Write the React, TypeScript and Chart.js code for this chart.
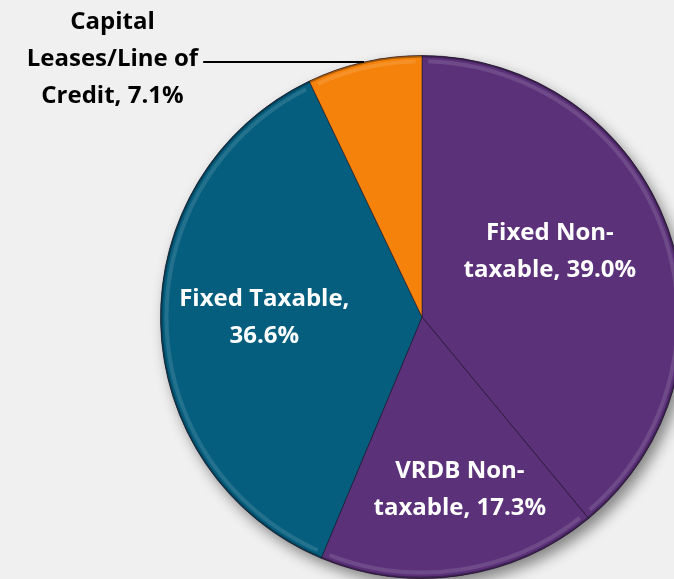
import React, { useEffect, useRef } from "react";
import { Chart, registerables } from "chart.js";

Chart.register(...registerables);

const categories = ["Fixed Non-taxable", "VRDB Non-taxable", "Fixed Taxable", "Capital Leases/Line of Credit"];
const shares = [39.0, 17.3, 36.6, 7.1];
const labelLines = [
  ["Fixed Non-", "taxable, 39.0%"],
  ["VRDB Non-", "taxable, 17.3%"],
  ["Fixed Taxable,", "36.6%"],
  ["Capital", "Leases/Line of", "Credit, 7.1%"],
];
const colors = ["#5B3179", "#5B3179", "#065E7E", "#F5820A"];
const labelRadius = [0.55, 0.675, 0.603, 0];
const labelAngleFrac = [0.447, 0.437, 0.508, 0.5];
const outsideLabel = [false, false, false, true];

const FONT = "bold 24px 'Open Sans', Lato, sans-serif";

const shadowPlugin = {
  id: "pieShadow",
  beforeDatasetsDraw(chart: any) {
    const meta = chart.getDatasetMeta(0);
    const a = meta.data[0];
    if (!a) return;
    const ctx = chart.ctx;
    ctx.save();
    ctx.shadowColor = "rgba(0,0,0,0.45)";
    ctx.shadowBlur = 14;
    ctx.shadowOffsetX = 5;
    ctx.shadowOffsetY = 7;
    ctx.beginPath();
    ctx.arc(a.x, a.y, a.outerRadius, 0, Math.PI * 2);
    ctx.fillStyle = "#3a2a4a";
    ctx.fill();
    ctx.restore();
  },
  afterDatasetsDraw(chart: any) {
    const meta = chart.getDatasetMeta(0);
    const ctx = chart.ctx;
    meta.data.forEach((arc: any) => {
      const { x, y, startAngle, endAngle, outerRadius } = arc;
      ctx.save();
      ctx.beginPath();
      ctx.arc(x, y, outerRadius - 6, startAngle + 0.025, endAngle - 0.025);
      ctx.strokeStyle = "rgba(255,255,255,0.12)";
      ctx.lineWidth = 4;
      ctx.stroke();
      ctx.beginPath();
      ctx.arc(x, y, outerRadius - 1, startAngle, endAngle);
      ctx.strokeStyle = "rgba(0,0,0,0.3)";
      ctx.lineWidth = 2;
      ctx.stroke();
      ctx.restore();
    });
  },
};

const labelPlugin = {
  id: "sliceLabels",
  afterDraw(chart: any) {
    const meta = chart.getDatasetMeta(0);
    const ctx = chart.ctx;
    const lineH = 37;
    meta.data.forEach((arc: any, i: number) => {
      const { x, y, startAngle, endAngle, outerRadius } = arc;
      const ang = startAngle + (endAngle - startAngle) * labelAngleFrac[i];
      const lines = labelLines[i];
      ctx.save();
      ctx.font = FONT;
      ctx.textAlign = "center";
      ctx.textBaseline = "middle";
      if (!outsideLabel[i]) {
        const r = outerRadius * labelRadius[i];
        const cx = x + Math.cos(ang) * r;
        const cy = y + Math.sin(ang) * r;
        ctx.fillStyle = "#FFFFFF";
        lines.forEach((t: string, k: number) => {
          ctx.fillText(t, cx, cy + (k - (lines.length - 1) / 2) * lineH);
        });
      } else {
        const px = x + Math.cos(ang) * outerRadius;
        const py = y + Math.sin(ang) * outerRadius;
        const endX = px - 161;
        ctx.beginPath();
        ctx.moveTo(px, py);
        ctx.lineTo(endX, py);
        ctx.strokeStyle = "#000";
        ctx.lineWidth = 2;
        ctx.stroke();
        const maxW = Math.max(...lines.map((t: string) => ctx.measureText(t).width));
        const tx = endX - 5 - maxW / 2;
        ctx.fillStyle = "#000";
        lines.forEach((t: string, k: number) => {
          ctx.fillText(t, tx, py - 3 + (k - 1) * 37);
        });
      }
      ctx.restore();
    });
  },
};

export default function App() {
  const ref = useRef<HTMLCanvasElement | null>(null);
  useEffect(() => {
    const c = ref.current;
    if (!c) return;
    const chart = new Chart(c, {
      type: "pie",
      data: {
        labels: categories,
        datasets: [
          {
            data: shares,
            backgroundColor: colors,
            borderColor: "rgba(30,20,40,0.55)",
            borderWidth: 1,
          },
        ],
      },
      options: {
        animation: false,
        responsive: false,
        maintainAspectRatio: false,
        layout: { padding: { top: 55, bottom: 55, left: 160, right: 160 } },
        plugins: { legend: { display: false }, tooltip: { enabled: false } },
      },
      plugins: [shadowPlugin, labelPlugin],
    });
    return () => chart.destroy();
  }, []);
  return (
    <div
      style={{
        position: "fixed",
        left: 0,
        top: 0,
        width: 674,
        height: 579,
        overflow: "hidden",
        background: "#F0F0F0",
      }}
    >
      <canvas ref={ref} width={844} height={634} style={{ position: "absolute", left: 0, top: 0, width: 844, height: 634 }} />
    </div>
  );
}
